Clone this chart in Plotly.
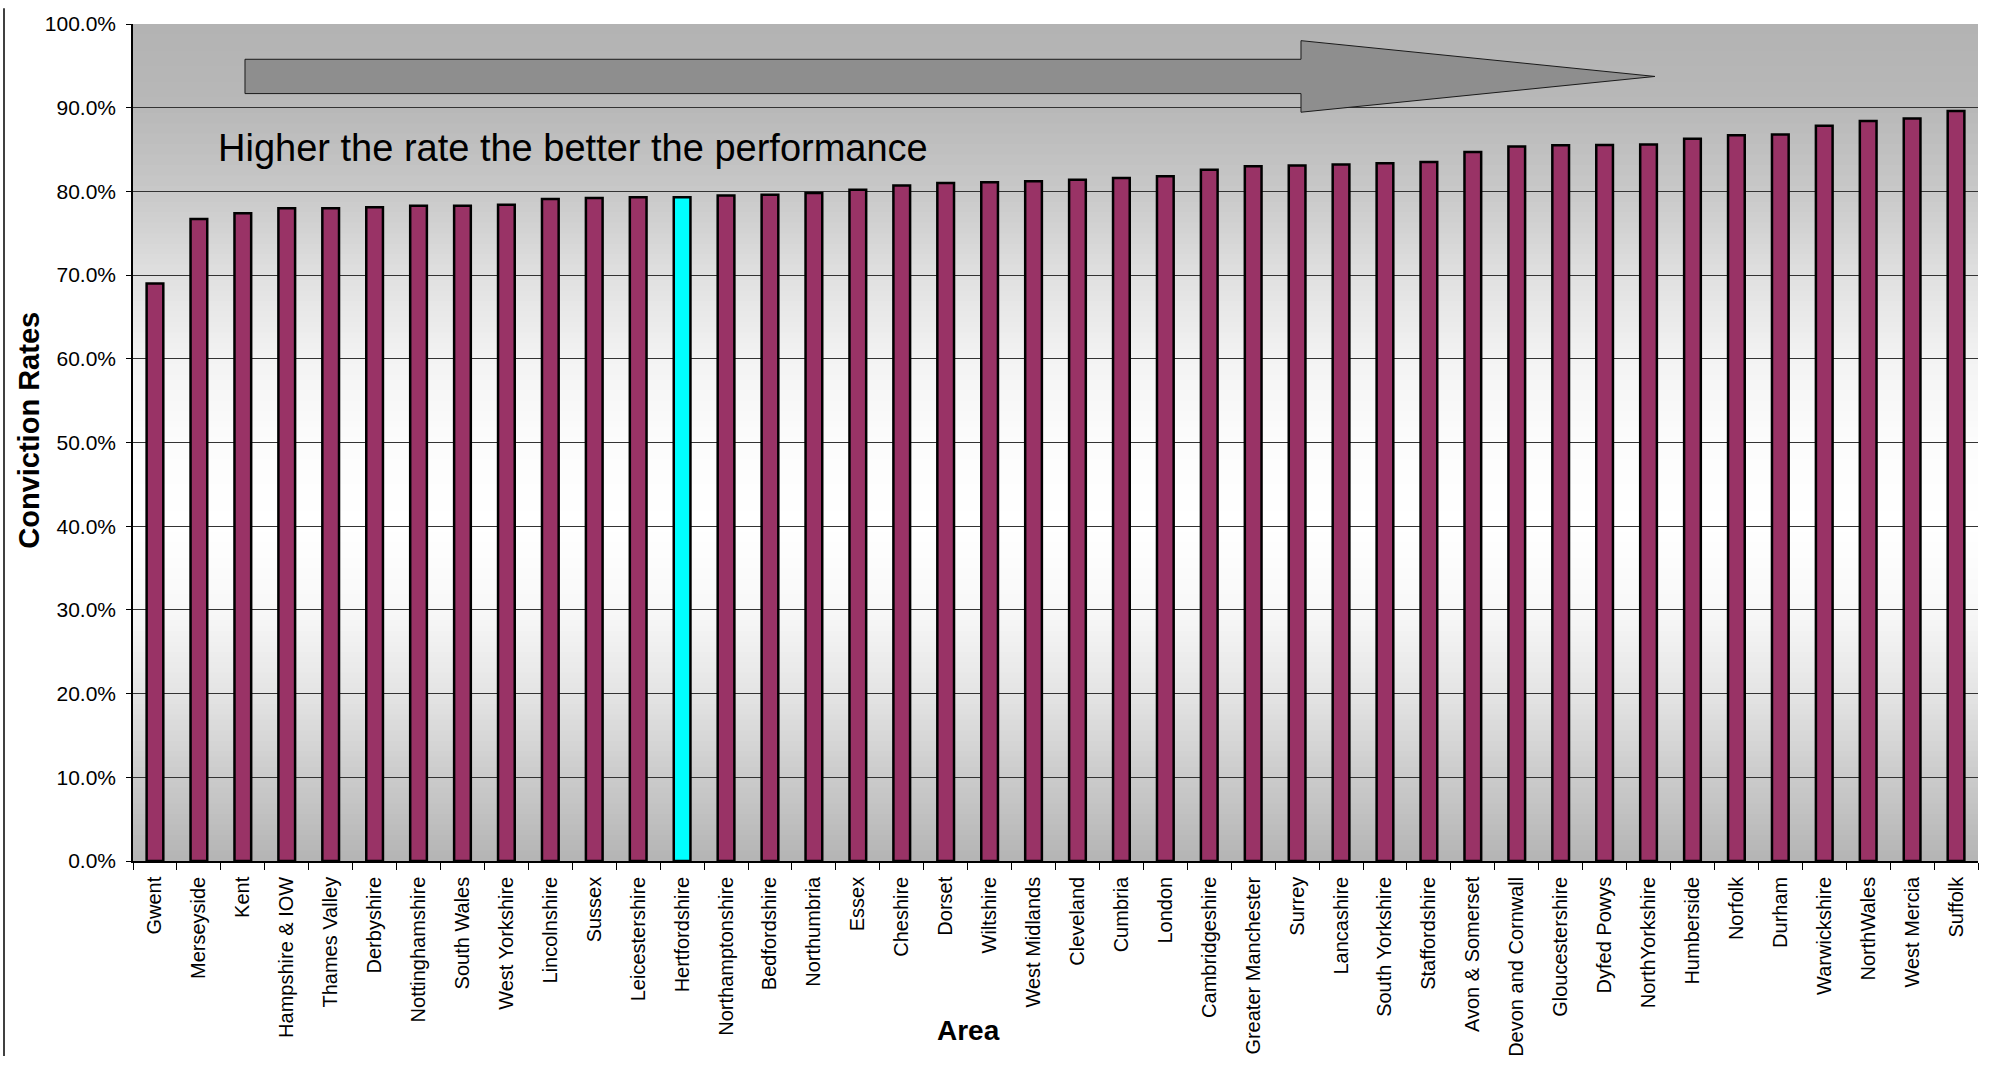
import plotly.graph_objects as go

# ---- data ----
areas = ["Gwent", "Merseyside", "Kent", "Hampshire & IOW", "Thames Valley", "Derbyshire",
         "Nottinghamshire", "South Wales", "West Yorkshire", "Lincolnshire", "Sussex",
         "Leicestershire", "Hertfordshire", "Northamptonshire", "Bedfordshire", "Northumbria",
         "Essex", "Cheshire", "Dorset", "Wiltshire", "West Midlands", "Cleveland", "Cumbria",
         "London", "Cambridgeshire", "Greater Manchester", "Surrey", "Lancashire",
         "South Yorkshire", "Staffordshire", "Avon & Somerset", "Devon and Cornwall",
         "Gloucestershire", "Dyfed Powys", "NorthYorkshire", "Humberside", "Norfolk", "Durham",
         "Warwickshire", "NorthWales", "West Mercia", "Suffolk"]
rates = [69.0, 76.7, 77.4, 78.0, 78.0, 78.1,
         78.3, 78.3, 78.4, 79.1, 79.2,
         79.3, 79.3, 79.5, 79.6, 79.8,
         80.2, 80.7, 81.0, 81.1, 81.2, 81.4, 81.6,
         81.8, 82.6, 83.0, 83.1, 83.2,
         83.35, 83.5, 84.7, 85.35,
         85.5, 85.55, 85.6, 86.3, 86.7, 86.8,
         87.85, 88.4, 88.7, 89.6]
highlight = "Hertfordshire"
y_ticks = [0, 10, 20, 30, 40, 50, 60, 70, 80, 90, 100]
y_tick_text = [f"{v:.1f}%" for v in y_ticks]

# ---- geometry (page pixels -> paper) ----
W, H = 2004, 1069
L, R, T, B = 133, 1978, 16, 870   # plot area in page pixels
def px(x):
    return (x - L) / (R - L)
def py(y):
    return (B - y) / (B - T)

bar_colors = ["#00FFFF" if a == highlight else "#993366" for a in areas]

fig = go.Figure()
fig.add_trace(go.Bar(
    x=areas, y=rates, width=0.38,
    marker=dict(color=bar_colors, line=dict(color="black", width=2.5)),
    hoverinfo="x+y",
))

shapes = []
# background vertical gradient (grey - white - grey)
stops = [(0, 180), (10, 203), (20, 228), (30, 248), (40, 255), (50, 252),
         (60, 243), (70, 224), (80, 200), (90, 184), (100, 179)]
def lum(v):
    for (v0, l0), (v1, l1) in zip(stops[:-1], stops[1:]):
        if v0 <= v <= v1:
            return l0 + (l1 - l0) * (v - v0) / (v1 - v0)
    return 179
n = 160
for i in range(n):
    a = 100 * i / n
    b = 100 * (i + 1) / n
    g = int(round(lum((a + b) / 2)))
    shapes.append(dict(type="rect", xref="paper", yref="y", x0=0, x1=1, y0=a,
                       y1=min(100, b + 0.5),
                       fillcolor=f"rgb({g},{g},{g})", line=dict(width=0), layer="below"))

# block arrow
pts = [(245, 52), (1301, 52), (1301, 33), (1655, 69.5), (1301, 106), (1301, 87), (245, 87)]
path = "M " + " L ".join(f"{px(x):.5f},{py(y):.5f}" for x, y in pts) + " Z"
shapes.append(dict(type="path", xref="paper", yref="paper", path=path,
                   fillcolor="#8e8e8e", line=dict(color="#1a1a1a", width=1), layer="above"))

# chart border at left
shapes.append(dict(type="line", xref="paper", yref="paper", x0=px(4), x1=px(4),
                   y0=py(0), y1=py(H), line=dict(color="black", width=1.5)))

fig.update_layout(
    width=W, height=H, autosize=False,
    margin=dict(l=L, r=W - R, t=T, b=H - B, pad=0),
    paper_bgcolor="white", plot_bgcolor="#e0e0e0",
    showlegend=False,
    font=dict(family="Liberation Sans, Arial, sans-serif", color="black"),
    shapes=shapes,
    annotations=[
        dict(text="Higher the rate the better the performance", xref="paper", yref="paper",
             x=px(216), y=py(143), xanchor="left", yanchor="middle", showarrow=False,
             font=dict(size=38, color="black")),
        dict(text="<b>Conviction Rates</b>", xref="paper", yref="paper",
             x=px(29), y=py(431), xanchor="center", yanchor="middle", textangle=-90,
             showarrow=False, font=dict(size=29, color="black")),
        dict(text="<b>Area</b>", xref="paper", yref="paper",
             x=px(968), y=py(1043), xanchor="center", yanchor="middle",
             showarrow=False, font=dict(size=28, color="black")),
    ],
)

fig.update_xaxes(
    type="category", tickangle=-90, tickfont=dict(size=20),
    showline=True, linecolor="black", linewidth=1.5,
    ticks="outside", tickson="boundaries", ticklen=7, tickcolor="black", tickwidth=1,
    showgrid=False, range=[-0.5, len(areas) - 0.5], fixedrange=True,
    ticklabelstandoff=6,
)
fig.update_yaxes(
    range=[0, 100], tickmode="array", tickvals=y_ticks, ticktext=y_tick_text,
    tickfont=dict(size=21),
    showline=True, linecolor="black", linewidth=1.5,
    ticks="outside", ticklen=5, tickcolor="black", tickwidth=1,
    showgrid=True, gridcolor="#333333", gridwidth=1.3,
    zeroline=False, fixedrange=True, ticklabelstandoff=6,
)

# place the figure div at the page origin (no default body margin), no mode bar
fig.write_html("out.html", config={"displayModeBar": False},
               post_script="document.body.style.margin='0';")
